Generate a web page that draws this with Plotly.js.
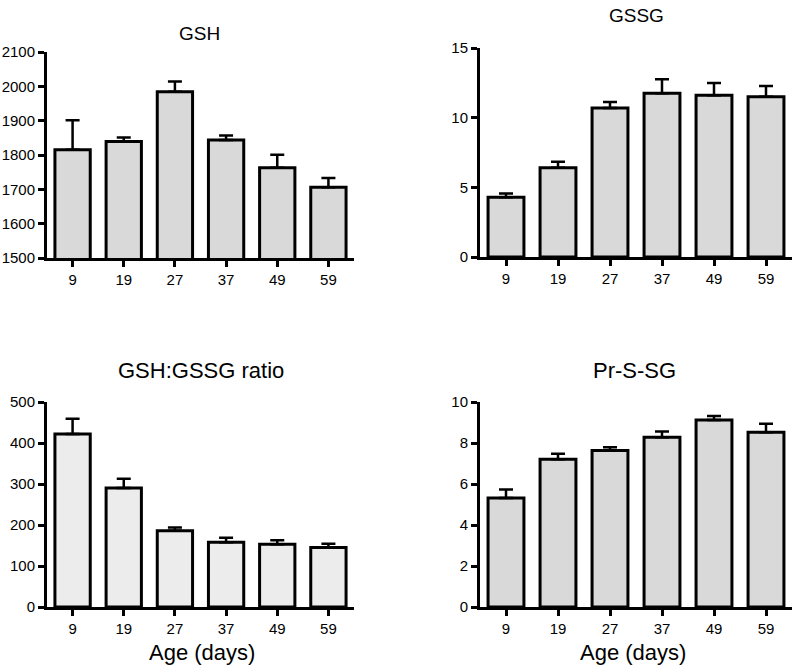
<!DOCTYPE html>
<html>
<head>
<meta charset="utf-8">
<script src="https://cdn.plot.ly/plotly-3.0.1.min.js"></script>
<style>html,body{margin:0;padding:0;background:#fff;}#chart{width:800px;height:672px;}</style>
</head>
<body>
<div id="chart"></div>
<script>
// Data
const ages = ['9', '19', '27', '37', '49', '59'];
const gshMean = [1815, 1839, 1984, 1844, 1763, 1706];
const gshSem = [86, 12, 30, 13, 38, 27];
const gssgMean = [4.29, 6.40, 10.70, 11.75, 11.61, 11.51];
const gssgSem = [0.27, 0.43, 0.43, 1.01, 0.88, 0.77];
const ratioMean = [422, 290, 186, 158, 153, 145];
const ratioSem = [37, 23, 8, 11, 10, 9];
const prssgMean = [5.32, 7.21, 7.63, 8.28, 9.12, 8.52];
const prssgSem = [0.41, 0.26, 0.16, 0.28, 0.20, 0.42];
const panelTitles = ['GSH', 'GSSG', 'GSH:GSSG ratio', 'Pr-S-SG'];
const xTitle = 'Age (days)';

const FONT = 'Arial, "Liberation Sans", Helvetica, sans-serif';
const zeros = n => new Array(n).fill(0);

function barTrace(y, sem, xa, ya, fill) {
  return {
    type: 'bar', x: ages, y: y, xaxis: xa, yaxis: ya, width: 0.69,
    marker: {color: fill, line: {color: '#000', width: 3}},
    error_y: {type: 'data', symmetric: false, array: sem, arrayminus: zeros(sem.length),
              color: '#000', thickness: 2.5, width: 7},
    showlegend: false, hoverinfo: 'x+y'
  };
}

const data = [
  barTrace(gshMean, gshSem, 'x', 'y', '#d9d9d9'),
  barTrace(gssgMean, gssgSem, 'x2', 'y2', '#d9d9d9'),
  barTrace(ratioMean, ratioSem, 'x3', 'y3', '#ececec'),
  barTrace(prssgMean, prssgSem, 'x4', 'y4', '#d9d9d9')
];

function xa(dom, anchor) {
  return {domain: dom, anchor: anchor, type: 'category', range: [-0.5, 5.5],
    showline: true, linewidth: 3, linecolor: '#000', ticks: 'outside', ticklen: 6, tickwidth: 3,
    tickcolor: '#000', showgrid: false, zeroline: false,
    tickfont: {family: FONT, size: 15, color: '#000'}};
}
function ya(dom, anchor, range, dtick) {
  return {domain: dom, anchor: anchor, range: range, dtick: dtick, tick0: 0,
    showline: true, linewidth: 3, linecolor: '#000', ticks: 'outside', ticklen: 6, tickwidth: 3,
    tickcolor: '#000', showgrid: false, zeroline: false, ticklabelstandoff: 0,
    tickfont: {family: FONT, size: 15, color: '#000'}};
}

const W = 800, H = 672;
const px = (a, b) => [a / W, b / W];
const py = (top, bottom) => [1 - bottom / H, 1 - top / H];

function ann(text, x, y, size) {
  return {text: text, xref: 'paper', yref: 'paper', x: x / W, y: 1 - y / H,
    xanchor: 'center', yanchor: 'middle', showarrow: false,
    font: {family: FONT, size: size, color: '#000'}};
}

const layout = {
  width: W, height: H, margin: {l: 0, r: 0, t: 0, b: 0},
  paper_bgcolor: '#fff', plot_bgcolor: 'rgba(0,0,0,0)',
  bargap: 0.3,
  xaxis: xa(px(47, 354), 'y'),
  yaxis: ya(py(52, 258), 'x', [1500, 2100], 100),
  xaxis2: xa(px(480, 792), 'y2'),
  yaxis2: ya(py(48, 257), 'x2', [0, 15], 5),
  xaxis3: xa(px(47, 354), 'y3'),
  yaxis3: ya(py(402, 607), 'x3', [0, 500], 100),
  xaxis4: xa(px(480, 792), 'y4'),
  yaxis4: ya(py(402, 607), 'x4', [0, 10], 2),
  annotations: [
    ann(panelTitles[0], 199, 33, 19),
    ann(panelTitles[1], 636, 15, 19),
    ann(panelTitles[2], 201, 370, 22),
    ann(panelTitles[3], 634, 370, 22),
    ann(xTitle, 202, 652, 22),
    ann(xTitle, 633, 652, 22)
  ]
};

Plotly.newPlot('chart', data, layout, {staticPlot: true, displayModeBar: false});
</script>
</body>
</html>
